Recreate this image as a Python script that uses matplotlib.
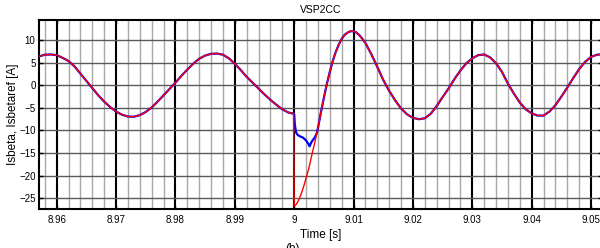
import numpy as np
import matplotlib
matplotlib.use("Agg")
import matplotlib.pyplot as plt
from matplotlib.ticker import MultipleLocator

plt.rcParams['font.family'] = ['Liberation Sans', 'DejaVu Sans']

# shared part of both curves before the step at t = 9 s
t_before = [8.957, 8.958, 8.959, 8.960, 8.961, 8.962, 8.963, 8.964, 8.965, 8.966,
            8.967, 8.968, 8.969, 8.970, 8.971, 8.972, 8.973, 8.974, 8.975, 8.976,
            8.977, 8.978, 8.979, 8.980, 8.981, 8.982, 8.983, 8.984, 8.985, 8.986,
            8.987, 8.988, 8.989, 8.990, 8.991, 8.992, 8.993, 8.994, 8.995, 8.996,
            8.997, 8.998, 8.999, 8.9999]
i_before = [6.4, 6.8, 6.85, 6.7, 6.1, 5.4, 4.2, 2.6, 1.0, -0.6,
            -2.2, -3.6, -4.8, -5.8, -6.5, -6.9, -6.95, -6.6, -5.9, -4.9,
            -3.6, -2.2, -0.8, 0.6, 2.1, 3.5, 4.8, 5.9, 6.6, 7.0,
            7.05, 6.8, 6.0, 4.8, 3.4, 1.9, 0.6, -0.7, -2.0, -3.2,
            -4.3, -5.3, -6.0, -6.3]

# reference (Isbetaref) from the step onwards
t_ref_after = [9.0000, 9.0004, 9.0008, 9.0012, 9.0016, 9.0020, 9.0025, 9.0030, 9.0035, 9.0040,
               9.0045, 9.0050, 9.0055, 9.0060, 9.0065, 9.0070, 9.0075, 9.0080, 9.0085, 9.0090,
               9.0095, 9.0100, 9.0105, 9.0110, 9.0115, 9.0120, 9.0130, 9.0140, 9.0150, 9.0160,
               9.0170, 9.0180, 9.0190, 9.0200, 9.0210, 9.0220, 9.0230, 9.0240, 9.0250, 9.0260,
               9.0270, 9.0280, 9.0290, 9.0300, 9.0310, 9.0320, 9.0330, 9.0340, 9.0350, 9.0360,
               9.0370, 9.0380, 9.0390, 9.0400, 9.0410, 9.0420, 9.0430, 9.0440, 9.0450, 9.0460,
               9.0470, 9.0480, 9.0490, 9.0500, 9.0510, 9.0520]
i_ref_after = [-26.8, -26.3, -25.3, -24.0, -22.4, -20.6, -18.2, -15.3, -12.5, -9.5,
               -6.0, -2.8, 0.3, 3.0, 5.4, 7.4, 9.0, 10.3, 11.2, 11.7,
               12.0, 12.0, 11.7, 11.1, 10.3, 9.4, 6.9, 4.1, 1.2, -1.2,
               -3.3, -5.1, -6.4, -7.2, -7.5, -7.3, -6.3, -4.6, -2.6, -0.7,
               1.4, 3.3, 4.9, 6.0, 6.7, 6.85, 6.2, 4.9, 3.0, 0.4,
               -1.8, -3.8, -5.3, -6.2, -6.7, -6.7, -5.8, -4.4, -2.5, -0.5,
               1.6, 3.6, 5.2, 6.3, 6.8, 6.9]

# measured current (Isbeta) during the transient
t_meas_step = [9.0000, 9.0001, 9.0003, 9.0006, 9.0010, 9.0015, 9.0020, 9.0024, 9.0026, 9.0029,
               9.0032, 9.0035, 9.0038]
i_meas_step = [-6.4, -8.5, -10.4, -11.0, -11.3, -11.6, -12.2, -13.0, -13.5, -12.6,
               -12.0, -11.5, -10.6]

x_ticks = [8.96, 8.97, 8.98, 8.99, 9.00, 9.01, 9.02, 9.03, 9.04, 9.05]
x_tick_labels = ['8.96', '8.97', '8.98', '8.99', '9', '9.01', '9.02', '9.03', '9.04', '9.05']
y_ticks = [-25, -20, -15, -10, -5, 0, 5, 10]

t_ref = t_before + t_ref_after
i_ref = i_before + i_ref_after
t_meas = t_before + t_meas_step + [t for t in t_ref_after if t > 9.0039]
i_meas = i_before + i_meas_step + [v for t, v in zip(t_ref_after, i_ref_after) if t > 9.0039]

fig = plt.figure(figsize=(6.0, 2.48), dpi=100)
ax = fig.add_axes([39 / 600, 39 / 248, 563 / 600, 189.5 / 248])

ax.set_xlim(8.95702, 9.05185)
ax.set_ylim(-27.4, 14.6)

# grid: light minor verticals, black major verticals, grey horizontals
ax.xaxis.set_minor_locator(MultipleLocator(0.002))
ax.grid(which='minor', axis='x', color='#a8a8a8', linewidth=1.0)
ax.grid(which='major', axis='x', color='black', linewidth=1.5)
ax.grid(which='major', axis='y', color='#5a5a5a', linewidth=1.0)
ax.set_axisbelow(True)

ax.plot(t_meas, i_meas, color='blue', linewidth=1.6, zorder=3)
ax.plot(t_ref, i_ref, color='red', linewidth=1.0, zorder=4)

ax.set_xticks(x_ticks)
ax.set_xticklabels(x_tick_labels)
ax.set_yticks(y_ticks)
ax.tick_params(which='major', direction='in', length=3, width=1, top=True, right=True,
               labelsize=7)
ax.tick_params(axis='x', pad=4)
ax.tick_params(axis='y', pad=2.5)
ax.tick_params(which='minor', length=0)
for s in ax.spines.values():
    s.set_linewidth(1.5)

ax.set_title('VSP2CC', fontsize=7.5, pad=5)
ax.set_xlabel('Time [s]', fontsize=8.5, labelpad=3)
ax.set_ylabel('Isbeta, Isbetaref [A]', fontsize=8.5)
ax.yaxis.set_label_coords(-0.036, 0.5)
fig.text(0.487, 0.02, '(b)', fontsize=8.5, ha='center', va='top')

fig.savefig('out.png', dpi=100)
